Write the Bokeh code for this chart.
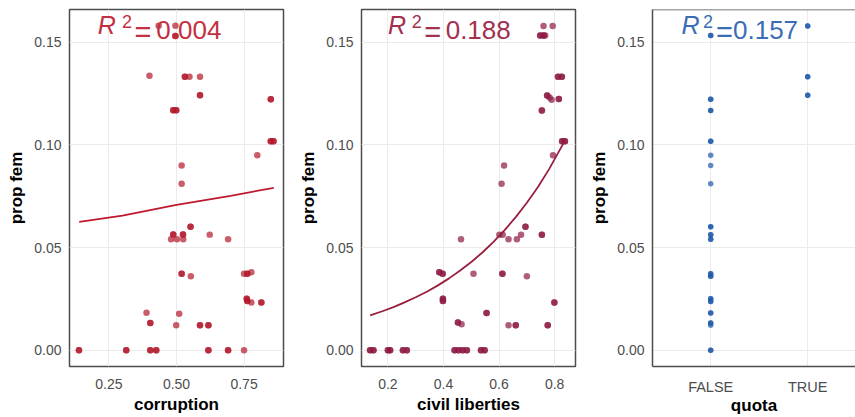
from bokeh.plotting import figure
from bokeh.layouts import row
from bokeh.models import Range1d, FixedTicker, NumeralTickFormatter, Label, CustomJSTickFormatter, Span
from bokeh.embed import file_html
from bokeh.resources import INLINE

# ---------------- data ----------------
corruption = [0.400, 0.434, 0.496, 0.496, 0.496, 0.531, 0.531, 0.548, 0.587, 0.587,
              0.587, 0.488, 0.488, 0.499, 0.499, 0.849, 0.849, 0.849, 0.849, 0.859,
              0.859, 0.799, 0.519, 0.519, 0.488, 0.488, 0.524, 0.524, 0.552, 0.552,
              0.480, 0.502, 0.525, 0.623, 0.691, 0.519, 0.519, 0.553, 0.750, 0.762,
              0.762, 0.777, 0.760, 0.760, 0.762, 0.762, 0.777, 0.814, 0.814, 0.389,
              0.510, 0.403, 0.403, 0.499, 0.587, 0.587, 0.618, 0.618, 0.139, 0.139,
              0.314, 0.314, 0.403, 0.403, 0.425, 0.425, 0.618, 0.618, 0.691, 0.691,
              0.750]
prop_fem_corruption = [0.1337, 0.158, 0.158, 0.153, 0.153, 0.1332, 0.1332, 0.1332, 0.1332, 0.1241,
                       0.1241, 0.1168, 0.1168, 0.1168, 0.1168, 0.1222, 0.1222, 0.1018, 0.1018, 0.1018,
                       0.1018, 0.095, 0.090, 0.0811, 0.0564, 0.0564, 0.0564, 0.0564, 0.0601, 0.0601,
                       0.054, 0.054, 0.054, 0.0563, 0.054, 0.0373, 0.0373, 0.036, 0.0373, 0.0373,
                       0.0373, 0.038, 0.0251, 0.0251, 0.024, 0.024, 0.0233, 0.0233, 0.0233, 0.0183,
                       0.0178, 0.0133, 0.0133, 0.0122, 0.0122, 0.0122, 0.0122, 0.0122, 0.0, 0.0,
                       0.0, 0.0, 0.0, 0.0, 0.0, 0.0, 0.0, 0.0, 0.0, 0.0,
                       0.0]

civil_liberties = [0.748, 0.748, 0.760, 0.760, 0.766, 0.760, 0.793, 0.812, 0.812, 0.826,
                   0.826, 0.754, 0.754, 0.773, 0.773, 0.782, 0.789, 0.815, 0.815, 0.827,
                   0.827, 0.837, 0.837, 0.794, 0.618, 0.609, 0.601, 0.613, 0.634, 0.664,
                   0.679, 0.695, 0.695, 0.754, 0.754, 0.463, 0.385, 0.385, 0.397, 0.397,
                   0.508, 0.612, 0.612, 0.700, 0.398, 0.398, 0.398, 0.398, 0.799, 0.799,
                   0.555, 0.555, 0.452, 0.452, 0.465, 0.634, 0.660, 0.660, 0.775, 0.775,
                   0.136, 0.136, 0.148, 0.148, 0.200, 0.200, 0.208, 0.208, 0.254, 0.254,
                   0.268, 0.268, 0.440, 0.440, 0.454, 0.454, 0.469, 0.469, 0.484, 0.484,
                   0.535, 0.535, 0.548, 0.548]
prop_fem_civil = [0.1532, 0.1532, 0.1532, 0.1532, 0.1532, 0.1579, 0.1579, 0.1332, 0.1332, 0.1332,
                  0.1332, 0.1167, 0.1167, 0.124, 0.124, 0.1231, 0.122, 0.1223, 0.1223, 0.1018,
                  0.1018, 0.1018, 0.1018, 0.095, 0.090, 0.0811, 0.0563, 0.0563, 0.054, 0.054,
                  0.0563, 0.0601, 0.0601, 0.0563, 0.0563, 0.054, 0.038, 0.038, 0.0373, 0.0373,
                  0.0373, 0.0373, 0.0373, 0.036, 0.0251, 0.0251, 0.024, 0.024, 0.0233, 0.0233,
                  0.0182, 0.0182, 0.0135, 0.0135, 0.0127, 0.0122, 0.0122, 0.0122, 0.0122, 0.0122,
                  0.0, 0.0, 0.0, 0.0, 0.0, 0.0, 0.0, 0.0, 0.0, 0.0,
                  0.0, 0.0, 0.0, 0.0, 0.0, 0.0, 0.0, 0.0, 0.0, 0.0,
                  0.0, 0.0, 0.0, 0.0]

quota = ["FALSE"] * 32 + ["TRUE"] * 6
prop_fem_quota = [0.1532, 0.1532, 0.1222, 0.1222, 0.1167, 0.1167, 0.1018, 0.1018, 0.095, 0.090,
                  0.0811, 0.0601, 0.0601, 0.0563, 0.0563, 0.054, 0.054, 0.0373, 0.0373, 0.036,
                  0.036, 0.0251, 0.0251, 0.0238, 0.0238, 0.0182, 0.0182, 0.0133, 0.0133, 0.0122,
                  0.0, 0.0,
                  0.1579, 0.1579, 0.1332, 0.1332, 0.1241, 0.1241]
quota_levels = ["FALSE", "TRUE"]

# fitted curves
fit_corruption_x = [0.14, 0.30, 0.50, 0.70, 0.86]
fit_corruption_y = [0.0625, 0.0656, 0.0708, 0.0752, 0.0791]
fit_civil_x = [0.136, 0.18, 0.22, 0.26, 0.30, 0.34, 0.38, 0.42, 0.46, 0.50,
               0.54, 0.58, 0.62, 0.66, 0.70, 0.74, 0.78, 0.836]
fit_civil_y = [0.0170, 0.0190, 0.0210, 0.0233, 0.0258, 0.0285, 0.0316, 0.0350, 0.0388, 0.0430,
               0.0476, 0.0528, 0.0585, 0.0648, 0.0718, 0.0795, 0.0882, 0.1018]

r2_labels = ["0.004", "0.188", "0.157"]
y_ticks = [0.0, 0.05, 0.10, 0.15]

FONT = "Liberation Sans"
RED = "#b2182b"
MAROON = "#8c1a45"
BLUE = "#1f58a8"
FRAME = "#4d4d4d"
Y_TOP = 0.1659


def base_fig(width, left, right, x_range, x_ticks, x_label):
    p = figure(width=width, height=417, output_backend="svg", toolbar_location=None,
               x_range=x_range, y_range=Range1d(-0.0079, Y_TOP),
               min_border_left=left, min_border_right=right,
               min_border_top=9, min_border_bottom=49)
    p.background_fill_color = "white"
    p.border_fill_color = "white"
    p.outline_line_color = FRAME
    p.outline_line_width = 1.5
    for ax in (p.xaxis[0], p.yaxis[0]):
        ax.major_tick_in = 0
        ax.major_tick_out = 0
        ax.minor_tick_in = 0
        ax.minor_tick_out = 0
        ax.axis_line_color = None
        ax.major_label_text_font = FONT
        ax.major_label_text_font_size = "14px"
        ax.major_label_text_color = "#4d4d4d"
        ax.axis_label_text_font = FONT
        ax.axis_label_text_font_size = "17px"
        ax.axis_label_text_font_style = "bold"
        ax.axis_label_text_color = "black"
    p.yaxis.ticker = FixedTicker(ticks=y_ticks)
    p.yaxis.formatter = NumeralTickFormatter(format="0.00")
    p.yaxis.axis_label = "prop fem"
    p.yaxis.major_label_standoff = 8
    p.yaxis.axis_label_standoff = 5
    p.xaxis.ticker = FixedTicker(ticks=x_ticks)
    p.xaxis.axis_label = x_label
    p.xaxis.major_label_standoff = 12
    p.xaxis.axis_label_standoff = 3
    p.xgrid.ticker = FixedTicker(ticks=x_ticks)
    p.ygrid.ticker = FixedTicker(ticks=y_ticks)
    p.grid.grid_line_color = "#ebebeb"
    p.grid.grid_line_width = 1
    p.grid.minor_grid_line_color = None
    return p


def r2(p, xs, value_text, color):
    y0 = 0.1517     # bottom of "R" and the value
    yeq = 0.1471    # bottom of "="
    ysup = 0.1567   # bottom of superscript
    common = dict(text_font=FONT, text_color=color, text_align="left")
    p.add_layout(Label(x=xs[0], y=y0, text="R", text_font_size="25px",
                       text_font_style="italic", **common))
    p.add_layout(Label(x=xs[1], y=ysup, text="2", text_font_size="18px", **common))
    p.add_layout(Label(x=xs[2], y=yeq, text="=", text_font_size="29px", **common))
    p.add_layout(Label(x=xs[3], y=y0, text=value_text, text_font_size="26px", **common))


# panel 1: corruption
p1 = base_fig(290, 69, 7, Range1d(0.104, 0.896), [0.25, 0.50, 0.75], "corruption")
p1.xaxis.formatter = NumeralTickFormatter(format="0.00")
p1.scatter(corruption, prop_fem_corruption, size=6.5, color=RED, alpha=0.7, line_color=None)
p1.line(fit_corruption_x, fit_corruption_y, line_color="#c0182f", line_width=1.8)
r2(p1, [0.209, 0.2985, 0.345, 0.4254], r2_labels[0], "#c4303f")

# panel 2: civil liberties
p2 = base_fig(290, 71, 5, Range1d(0.105, 0.875), [0.2, 0.4, 0.6, 0.8], "civil liberties")
p2.xaxis.formatter = NumeralTickFormatter(format="0.0")
p2.scatter(civil_liberties, prop_fem_civil, size=6.5, color=MAROON, alpha=0.7, line_color=None)
p2.line(fit_civil_x, fit_civil_y, line_color="#98203f", line_width=1.8)
r2(p2, [0.200, 0.2854, 0.331, 0.4079], r2_labels[1], "#a3304f")

# panel 3: quota (its right border lies outside the picture)
quota_x = [quota_levels.index(q) + 1 for q in quota]
p3 = base_fig(275, 72, 0, Range1d(0.4, 2.493), [1, 2], "quota")
p3.xaxis.formatter = CustomJSTickFormatter(args=dict(levels=quota_levels),
                                           code="return levels[Math.round(tick) - 1] || '';")
p3.xaxis.major_label_text_font_size = "14.5px"
p3.xaxis.axis_label_standoff = -2
p3.outline_line_color = None
p3.xaxis.axis_line_color = FRAME
p3.xaxis.axis_line_width = 1.5
p3.yaxis.axis_line_color = FRAME
p3.yaxis.axis_line_width = 1.5
p3.add_layout(Span(location=Y_TOP, dimension="width", line_color=FRAME, line_width=1.5))
p3.scatter(quota_x, prop_fem_quota, size=5.5, color=BLUE, alpha=0.7, line_color=None)
r2(p3, [0.698, 0.921, 1.055, 1.230], r2_labels[2], "#3a6db5")

layout = row(p1, p2, p3)
open("out.html", "w").write(file_html(layout, INLINE))
